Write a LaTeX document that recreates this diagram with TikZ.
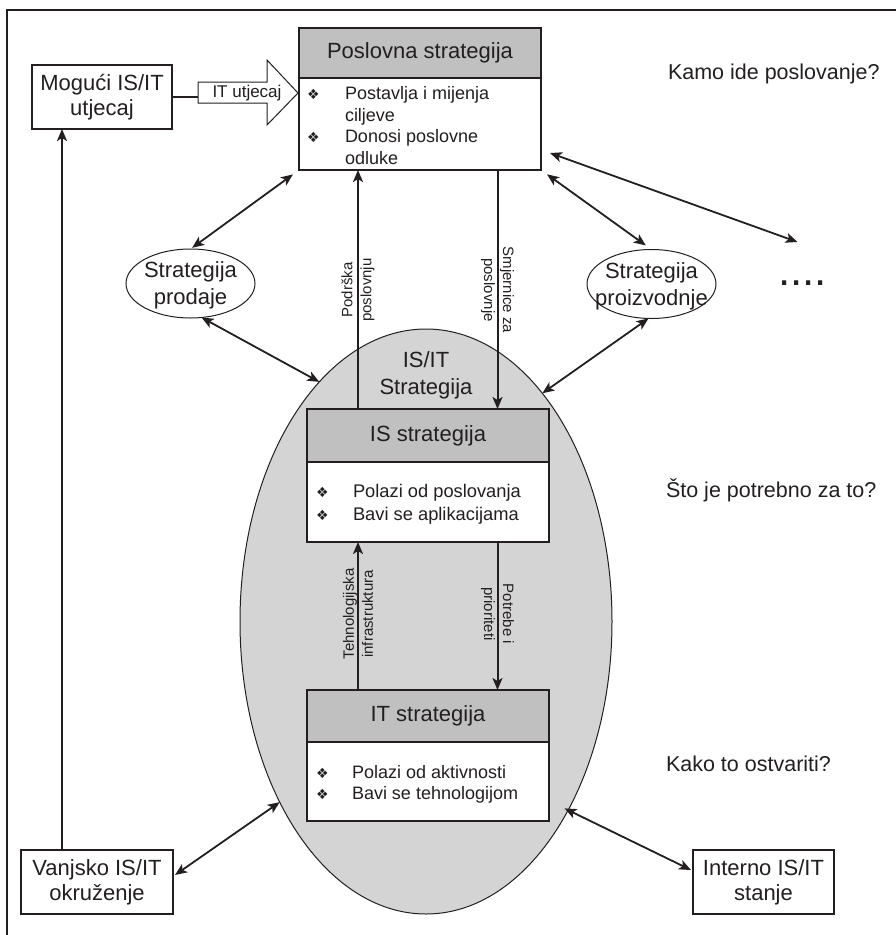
\documentclass[tikz,border=0pt]{standalone}
\usepackage{fontspec}
\setmainfont{Liberation Sans}
\newfontfamily\dejavu{DejaVu Sans}
\usetikzlibrary{shapes.geometric,arrows.meta,calc}
\definecolor{ink}{RGB}{35,31,32}
\definecolor{hdrgray}{RGB}{192,192,192}
\definecolor{ellgray}{RGB}{212,212,212}
\newcommand{\bul}{{\dejavu\fontsize{14}{14}\selectfont ❖}}
\begin{document}
\begin{tikzpicture}[x=1pt,y=-1pt,
  every node/.style={text=ink, inner sep=0pt, outer sep=0pt},
  hdr/.style={draw=ink, line width=1.2pt, fill=hdrgray, minimum width=242pt, font=\fontsize{22}{26}\selectfont},
  bodybox/.style={draw=ink, line width=1.2pt, fill=white, minimum width=242pt},
  plainbox/.style={draw=ink, line width=1.2pt, fill=white, align=center, font=\fontsize{22}{25}\selectfont},
  oval/.style={ellipse, draw=ink, line width=1pt, fill=white, minimum width=129pt, minimum height=69pt},
  ovaltext/.style={align=center, font=\fontsize{22}{27}\selectfont},
  lbl/.style={align=center, font=\fontsize{15}{19}\selectfont},
  quest/.style={anchor=west, font=\fontsize{21.5}{25}\selectfont},
  bultext/.style={anchor=base west, font=\fontsize{18}{21.7}\selectfont},
  arr/.style={draw=ink, line width=2pt, -{Stealth[length=12pt,width=10pt,inset=3pt]}},
  dbl/.style={draw=ink, line width=1.8pt, {Stealth[length=12pt,width=10pt,inset=3pt]}-{Stealth[length=12pt,width=10pt,inset=3pt]}},
]
\useasboundingbox (0,0) rectangle (896,935);
% frame
\draw[draw=ink, line width=1.3pt] (7,935) -- (7,10) -- (896,10);

% big IS/IT ellipse
\node[ellipse, draw=ink, line width=1pt, fill=ellgray, minimum width=372pt, minimum height=585pt] (isit) at (426,621.5) {};
\node[ovaltext] (isittxt) at (426,375.5) {IS/IT\\Strategija};

% Poslovna strategija
\node[hdr, minimum height=50pt] (posh) at (420,53) {Poslovna strategija};
\node[bodybox, minimum height=92pt, anchor=north] (posb) at (posh.south) {};
\node[bultext] (post) at (307,99.5) {\begin{tabular}[t]{@{}p{38pt}@{}l@{}}\bul & Postavlja i mijenja\\ & ciljeve\\ \bul & Donosi poslovne\\ & odluke\end{tabular}};

% IS strategija
\node[hdr, minimum height=53pt] (ish) at (428,435.5) {IS strategija};
\node[bodybox, minimum height=80pt, anchor=north] (isb) at (ish.south) {};
\node[bultext, font=\fontsize{18.3}{23}\selectfont] (ist) at (316,497.5) {\begin{tabular}[t]{@{}p{37pt}@{}l@{}}\bul & Polazi od poslovanja\\ \bul & Bavi se aplikacijama\end{tabular}};

% IT strategija
\node[hdr, minimum height=52pt] (ith) at (428,716) {IT strategija};
\node[bodybox, minimum height=79pt, anchor=north] (itb) at (ith.south) {};
\node[bultext, font=\fontsize{18}{20.5}\selectfont] (itt) at (316,778.5) {\begin{tabular}[t]{@{}p{36pt}@{}l@{}}\bul & Polazi od aktivnosti\\ \bul & Bavi se tehnologijom\end{tabular}};

% side boxes
\node[plainbox, minimum width=140pt, minimum height=64pt] (mog) at (102,97) {Mogući IS/IT\\utjecaj};
\node[plainbox, minimum width=152pt, minimum height=64pt] (vanj) at (97,882) {Vanjsko IS/IT\\okruženje};
\node[plainbox, minimum width=141pt, minimum height=64pt] (intern) at (763.5,882) {Interno IS/IT\\stanje};

% ovals
\node[oval] (prod) at (190.5,283.5) {};
\node[ovaltext] (prodt) at (190.5,285.5) {Strategija\\prodaje};
\node[oval] (proiz) at (651.5,284) {};
\node[ovaltext] (proizt) at (651.5,286) {Strategija\\proizvodnje};
\node[font=\fontsize{44}{44}\selectfont] (dots) at (802.5,283) {....};

% block arrow IT utjecaj
\draw[draw=ink, line width=1pt, fill=white] (198,82) -- (267,82) -- (267,60) -- (298,93) -- (267,125) -- (267,103) -- (198,103) -- cycle;
\coordinate (arrtail) at (198,93);
\node[font=\fontsize{17}{17}\selectfont] (itut) at (247,93) {IT utjecaj};
\draw[draw=ink, line width=2pt] (mog.east) -- (mog.east -| arrtail);

% questions
\node[quest] (q1) at (668,74) {Kamo ide poslovanje?};
\node[quest] (q2) at (666,490) {Što je potrebno za to?};
\node[quest] (q3) at (666,764) {Kako to ostvariti?};

% vertical arrows
\draw[arr] ([xshift=-70pt]ish.north) -- ([xshift=-70pt]ish.north |- posb.south);
\draw[arr] ([xshift=69.5pt]ish.north |- posb.south) -- ([xshift=69.5pt]ish.north);
\draw[arr] ([xshift=-70pt]ith.north) -- ([xshift=-70pt]ith.north |- isb.south);
\draw[arr] ([xshift=69.5pt]ith.north |- isb.south) -- ([xshift=69.5pt]ith.north);
\draw[arr] ([xshift=-35pt]vanj.north) -- ([xshift=-35pt]vanj.north |- mog.south);

% rotated labels
\node[lbl, rotate=90] (l1) at (358,290) {Podrška\\poslovnju};
\node[lbl, rotate=-90] (l2) at (497.5,290) {Smjernice za\\poslovnje};
\node[lbl, rotate=90] (l3) at (358,614) {Tehnologijska\\infrastruktura};
\node[lbl, rotate=-90] (l4) at (497.5,614) {Potrebe i\\prioriteti};

% double arrows
\draw[dbl, shorten <=7.5pt, shorten >=2pt] (posb.south west) -- (prod.north);
\draw[dbl] (prod.-72) -- (isit.114.4);
\draw[dbl, shorten <=7.4pt, shorten >=7pt] (posb.south east) -- (proiz.north);
\draw[dbl] ([shift={(9,29)}]posb.east) -- ([shift={(-5,-41)}]dots.center);
\draw[dbl] (proiz.-95) -- (isit.63.1);
\draw[dbl] ([shift={(2,-7)}]vanj.east) -- (isit.231.7);
\draw[dbl, shorten <=-4pt] (isit.307.5) -- ([shift={(-2,-12)}]intern.west);
\end{tikzpicture}
\end{document}
